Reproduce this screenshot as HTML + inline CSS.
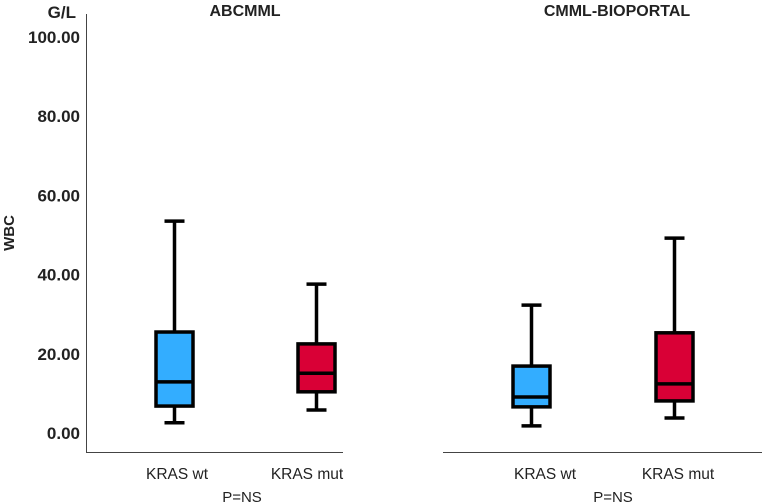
<!DOCTYPE html>
<html><head><meta charset="utf-8"><style>
body{margin:0;background:#fff;}
svg{display:block;font-family:"Liberation Sans",sans-serif;}
</style></head><body>
<svg id="chart" width="762" height="503">
<g id="axes"></g><g id="marks"></g>
</svg>
<script>
const panels = ["ABCMML", "CMML-BIOPORTAL"];
const categories = ["KRAS wt", "KRAS mut"];
const mins = [[2.6, 5.8], [1.8, 3.8]];
const q1s = [[6.8, 10.4], [6.6, 8.1]];
const medians = [[12.9, 15.1], [9.1, 12.4]];
const q3s = [[25.5, 22.5], [16.9, 25.3]];
const maxs = [[53.5, 37.6], [32.3, 49.2]];
const yTicks = [0, 20, 40, 60, 80, 100];
const colors = ["#33adff", "#d90036"];

const NS = "http://www.w3.org/2000/svg";
const axes = document.getElementById("axes");
const marks = document.getElementById("marks");
function y(v){ return 433 - v * 3.96; }
function mk(tag, attrs, parent, txt){
  const e = document.createElementNS(NS, tag);
  for (const k in attrs) e.setAttribute(k, attrs[k]);
  if (txt !== undefined) e.textContent = txt;
  parent.appendChild(e); return e;
}
const panelGeom = [
  {x0:86, x1:343, boxX:[156,298], labX:[177,307], pX:242, tX:245},
  {x0:443, x1:762, boxX:[513,656], labX:[545,678], pX:613, tX:617}
];
const BW = 37;
let e = mk("line", {x1:86.5, y1:14, x2:86.5, y2:453, stroke:"#444", "stroke-width":1}, axes);


yTicks.forEach(t => {
  const tl = mk("text", {x:80, y:y(t)+6, "text-anchor":"end", "font-size":17, "font-weight":"bold", fill:"#222"}, axes, t.toFixed(2));
  
  
});
e = mk("text", {x:76, y:18, "text-anchor":"end", "font-size":17, "font-weight":"bold", fill:"#222"}, axes, "G/L");


e = mk("text", {x:0, y:0, transform:"translate(14,233) rotate(-90)", "text-anchor":"middle", "font-size":15, "font-weight":"bold", fill:"#222"}, axes, "WBC");



panels.forEach((p, pi) => {
  const g = panelGeom[pi];
  let a = mk("line", {x1:g.x0, y1:452.5, x2:g.x1, y2:452.5, stroke:"#444", "stroke-width":1}, axes);
  
  
  a = mk("text", {x:g.tX, y:16, "text-anchor":"middle", "font-size":16, "font-weight":"bold", fill:"#222"}, axes, p);
  
  
  a = mk("text", {x:g.pX, y:502, "text-anchor":"middle", "font-size":15, fill:"#222"}, axes, "P=NS");
  
  
  categories.forEach((c, ci) => {
    const l = mk("text", {x:g.labX[ci], y:479, "text-anchor":"middle", "font-size":15.5, fill:"#222"}, axes, c);
    
    
    const bx = g.boxX[ci], cx = bx + BW/2;
    const grp = mk("g", {}, marks);
    
    
    const st = {stroke:"#000", "stroke-width":3.5};
    mk("line", Object.assign({x1:cx, y1:y(maxs[pi][ci]), x2:cx, y2:y(q3s[pi][ci])}, st), grp);
    mk("line", Object.assign({x1:cx, y1:y(q1s[pi][ci]), x2:cx, y2:y(mins[pi][ci])}, st), grp);
    mk("line", Object.assign({x1:cx-10, y1:y(maxs[pi][ci]), x2:cx+10, y2:y(maxs[pi][ci])}, st), grp);
    mk("line", Object.assign({x1:cx-10, y1:y(mins[pi][ci]), x2:cx+10, y2:y(mins[pi][ci])}, st), grp);
    mk("rect", Object.assign({x:bx, y:y(q3s[pi][ci]), width:BW, height:y(q1s[pi][ci])-y(q3s[pi][ci]), fill:colors[ci]}, st), grp);
    mk("line", Object.assign({x1:bx, y1:y(medians[pi][ci]), x2:bx+BW, y2:y(medians[pi][ci])}, st), grp);
  });
});
</script>
</body></html>
